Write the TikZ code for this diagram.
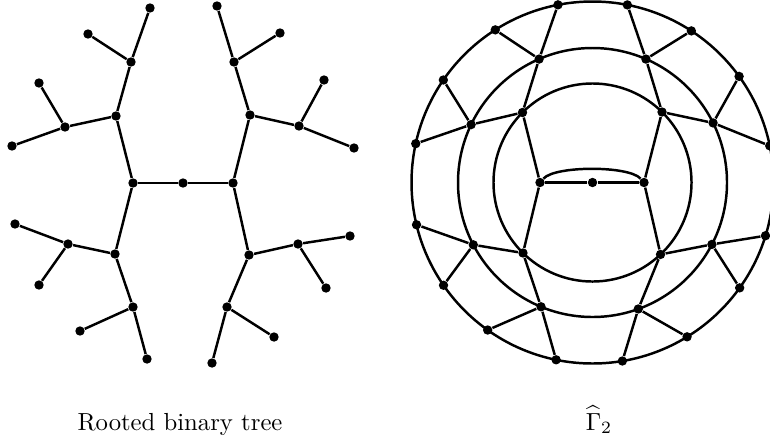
\documentclass[tikz,border=0pt]{standalone}
\usepackage{amsmath}
\begin{document}
\begin{tikzpicture}[x=0.405pt,y=-0.405pt,
  dot/.style={circle,fill=black,draw=none,inner sep=0pt,minimum size=3.8pt},
  edge/.style={line width=1pt,black},
  lbl/.style={anchor=base,inner sep=0pt,font=\normalsize}]
\useasboundingbox (0,0) rectangle (770,447);
% ---------- Left: rooted binary tree ----------
\node[dot] (c) at (183,183) {};
\node[dot] (L) at (133,183) {};
\node[dot] (R) at (233,183) {};
\node[dot] (LU) at (116,116) {};
\node[dot] (LD) at (115,254) {};
\node[dot] (LUa) at (131,62) {};
\node[dot] (LUb) at (65,127) {};
\node[dot] (LUa1) at (150,8) {};
\node[dot] (LUa2) at (88,34) {};
\node[dot] (LUb1) at (39,83) {};
\node[dot] (LUb2) at (12,146) {};
\node[dot] (LDa) at (68,244) {};
\node[dot] (LDb) at (133,307) {};
\node[dot] (LDa1) at (15,224) {};
\node[dot] (LDa2) at (39,285) {};
\node[dot] (LDb1) at (80,331) {};
\node[dot] (LDb2) at (147,359) {};
\node[dot] (RU) at (250,115) {};
\node[dot] (RD) at (249,255) {};
\node[dot] (RUa) at (234,62) {};
\node[dot] (RUb) at (299,126) {};
\node[dot] (RUa1) at (217,6) {};
\node[dot] (RUa2) at (280,33) {};
\node[dot] (RUb1) at (324,80) {};
\node[dot] (RUb2) at (354,148) {};
\node[dot] (RDa) at (298,244) {};
\node[dot] (RDb) at (227,307) {};
\node[dot] (RDa1) at (350,236) {};
\node[dot] (RDa2) at (326,288) {};
\node[dot] (RDb1) at (274,337) {};
\node[dot] (RDb2) at (212,363) {};
\foreach \a/\b in {c/L,c/R,L/LU,L/LD,LU/LUa,LU/LUb,LUa/LUa1,LUa/LUa2,LUb/LUb1,LUb/LUb2,
  LD/LDa,LD/LDb,LDa/LDa1,LDa/LDa2,LDb/LDb1,LDb/LDb2,
  R/RU,R/RD,RU/RUa,RU/RUb,RUa/RUa1,RUa/RUa2,RUb/RUb1,RUb/RUb2,
  RD/RDa,RD/RDb,RDa/RDa1,RDa/RDa2,RDb/RDb1,RDb/RDb2}
  \draw[edge] (\a) -- (\b);
\node[lbl] (t1) at (180,430) {Rooted binary tree};
% ---------- Right: Gamma hat 2 ----------
\coordinate (C) at (592.5,182.5);
\draw[edge] (C) circle[radius=73.3pt];
\draw[edge] (C) circle[radius=54.47pt];
\draw[edge] (C) circle[radius=40.1pt];
\node[dot] (qc) at (592.5,182.5) {};
\node[dot] (qL) at (540,182.5) {};
\node[dot] (qR) at (644,182.5) {};
% inner ring
\path (C) ++(135:40.1pt) node[dot] (iUL) {};
\path (C) ++(45.4:40.1pt) node[dot] (iUR) {};
\path (C) ++(225.4:40.1pt) node[dot] (iDL) {};
\path (C) ++(-46.6:40.1pt) node[dot] (iDR) {};
% middle ring
\path (C) ++(113.4:54.47pt) node[dot] (mUL1) {};
\path (C) ++(154.5:54.47pt) node[dot] (mUL2) {};
\path (C) ++(66.6:54.47pt) node[dot] (mUR1) {};
\path (C) ++(26.3:54.47pt) node[dot] (mUR2) {};
\path (C) ++(207.6:54.47pt) node[dot] (mDL1) {};
\path (C) ++(247.5:54.47pt) node[dot] (mDL2) {};
\path (C) ++(-27.4:54.47pt) node[dot] (mDR1) {};
\path (C) ++(-70.1:54.47pt) node[dot] (mDR2) {};
% outer ring
\path (C) ++(101.0:73.3pt) node[dot] (oUL1a) {};
\path (C) ++(122.5:73.3pt) node[dot] (oUL1b) {};
\path (C) ++(145.5:73.3pt) node[dot] (oUL2a) {};
\path (C) ++(167.6:73.3pt) node[dot] (oUL2b) {};
\path (C) ++(78.9:73.3pt) node[dot] (oUR1a) {};
\path (C) ++(56.9:73.3pt) node[dot] (oUR1b) {};
\path (C) ++(35.9:73.3pt) node[dot] (oUR2a) {};
\path (C) ++(11.7:73.3pt) node[dot] (oUR2b) {};
\path (C) ++(193.5:73.3pt) node[dot] (oDL1a) {};
\path (C) ++(214.6:73.3pt) node[dot] (oDL1b) {};
\path (C) ++(234.6:73.3pt) node[dot] (oDL2a) {};
\path (C) ++(258.4:73.3pt) node[dot] (oDL2b) {};
\path (C) ++(-17.1:73.3pt) node[dot] (oDR1a) {};
\path (C) ++(-35.6:73.3pt) node[dot] (oDR1b) {};
\path (C) ++(-58.5:73.3pt) node[dot] (oDR2a) {};
\path (C) ++(-80.5:73.3pt) node[dot] (oDR2b) {};
\foreach \a/\b in {qc/qL,qc/qR,qL/iUL,qL/iDL,qR/iUR,qR/iDR,
  iUL/mUL1,iUL/mUL2,iUR/mUR1,iUR/mUR2,iDL/mDL1,iDL/mDL2,iDR/mDR1,iDR/mDR2,
  mUL1/oUL1a,mUL1/oUL1b,mUL2/oUL2a,mUL2/oUL2b,
  mUR1/oUR1a,mUR1/oUR1b,mUR2/oUR2a,mUR2/oUR2b,
  mDL1/oDL1a,mDL1/oDL1b,mDL2/oDL2a,mDL2/oDL2b,
  mDR1/oDR1a,mDR1/oDR1b,mDR2/oDR2a,mDR2/oDR2b}
  \draw[edge] (\a) -- (\b);
\draw[edge] (qL) .. controls +(15,-17) and +(-15,-17) .. (qR);
\node[lbl] (t2) at (599,430) {$\widehat{\Gamma}_2$};
\end{tikzpicture}
\end{document}
